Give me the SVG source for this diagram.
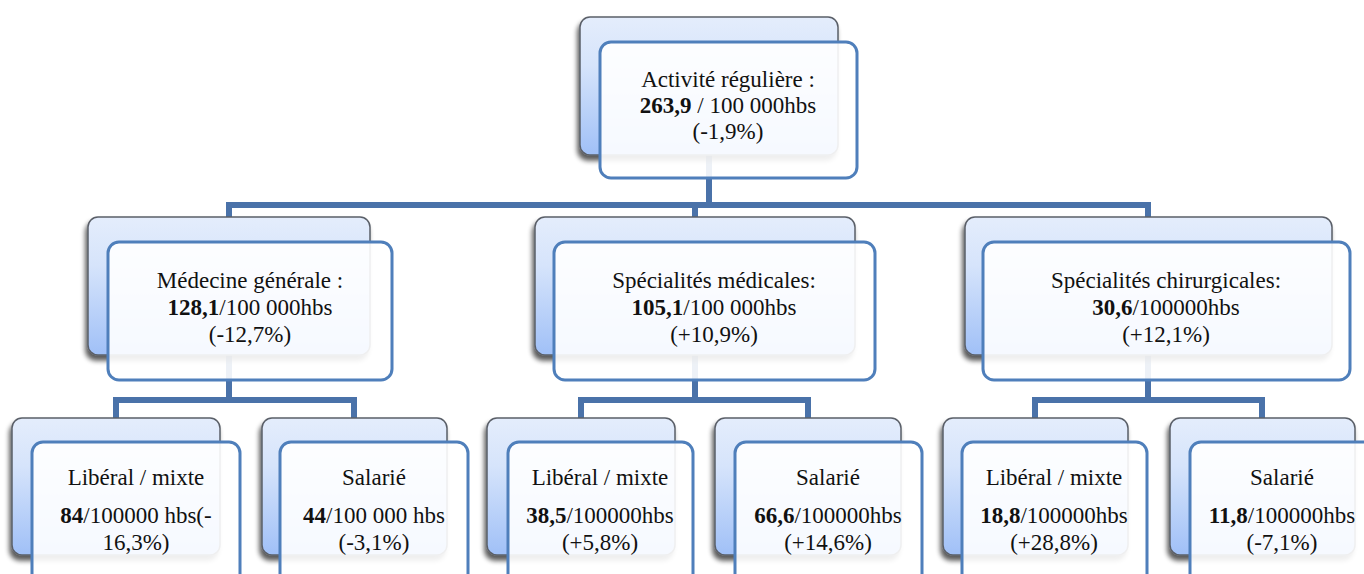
<svg xmlns="http://www.w3.org/2000/svg" width="1364" height="574" viewBox="0 0 1364 574">
<defs>
<linearGradient id="bg" x1="0" y1="0" x2="0" y2="1">
<stop offset="0" stop-color="#e4edfc"/>
<stop offset="0.35" stop-color="#d6e4fb"/>
<stop offset="1" stop-color="#a0c0f7"/>
</linearGradient>
<filter id="sh" x="-10%" y="-10%" width="120%" height="130%">
<feGaussianBlur in="SourceAlpha" stdDeviation="2.5"/>
<feOffset dx="-2" dy="5" result="o"/>
<feComponentTransfer><feFuncA type="linear" slope="0.65"/></feComponentTransfer>
<feMerge><feMergeNode/><feMergeNode in="SourceGraphic"/></feMerge>
</filter>
<style>
.back{fill:url(#bg);stroke:#5a5f68;stroke-width:1.5;filter:url(#sh)}
.front{fill:#ffffff;fill-opacity:0.9;stroke:#4f7fbb;stroke-width:3}
.conn{fill:none;stroke:#4a72a9;stroke-width:6;stroke-linejoin:miter}
text{font-family:"Liberation Serif","Times New Roman",serif;font-size:23px;fill:#111;text-anchor:middle}
.b{font-weight:bold}
</style>
</defs>
<rect width="1364" height="574" fill="#ffffff"/>
<g id="connectors">
<path class="conn" d="M709 150 V205 M229 205 H1148 M229 202 V220 M695 202 V220 M1148 202 V220"/>
<path class="conn" d="M229 350 V400 M116 400 H354 M116 397 V420 M354 397 V420"/>
<path class="conn" d="M695 350 V400 M581 400 H808 M581 397 V420 M808 397 V420"/>
<path class="conn" d="M1148 350 V400 M1035 400 H1262 M1035 397 V420 M1262 397 V420"/>
</g>
<g id="n-top">
<rect class="back" x="580" y="17" width="258" height="138" rx="10"/>
<rect class="front" x="600" y="42" width="257" height="136" rx="11"/>
<text x="728" y="87">Activité régulière :</text>
<text x="728" y="113"><tspan class="b">263,9</tspan> / 100 000hbs</text>
<text x="728" y="139">(-1,9%)</text>
</g>
<g id="n-mg">
<rect class="back" x="88" y="217" width="282" height="138" rx="10"/>
<rect class="front" x="108" y="242" width="284" height="138" rx="11"/>
<text x="250" y="288">Médecine générale :</text>
<text x="250" y="315"><tspan class="b">128,1</tspan>/100 000hbs</text>
<text x="250" y="342">(-12,7%)</text>
</g>
<g id="n-sm">
<rect class="back" x="535" y="217" width="320" height="138" rx="10"/>
<rect class="front" x="554" y="242" width="321" height="138" rx="11"/>
<text x="714" y="288">Spécialités médicales:</text>
<text x="714" y="315"><tspan class="b">105,1</tspan>/100 000hbs</text>
<text x="714" y="342">(+10,9%)</text>
</g>
<g id="n-sc">
<rect class="back" x="965" y="217" width="367" height="138" rx="10"/>
<rect class="front" x="983" y="242" width="367" height="138" rx="11"/>
<text x="1166" y="288">Spécialités chirurgicales:</text>
<text x="1166" y="315"><tspan class="b">30,6</tspan>/100000hbs</text>
<text x="1166" y="342">(+12,1%)</text>
</g>
<g id="n-mg-lib">
<rect class="back" x="12" y="418" width="208" height="137" rx="10"/>
<rect class="front" x="32" y="442" width="208" height="160" rx="11"/>
<text x="136" y="485">Libéral / mixte</text>
<text x="136" y="523"><tspan class="b">84</tspan>/100000 hbs(-</text>
<text x="136" y="550">16,3%)</text>
</g>
<g id="n-mg-sal">
<rect class="back" x="262" y="418" width="185" height="137" rx="10"/>
<rect class="front" x="280" y="442" width="188" height="160" rx="11"/>
<text x="374" y="485">Salarié</text>
<text x="374" y="523"><tspan class="b">44</tspan>/100 000 hbs</text>
<text x="374" y="550">(-3,1%)</text>
</g>
<g id="n-sm-lib">
<rect class="back" x="487" y="418" width="188" height="137" rx="10"/>
<rect class="front" x="508" y="442" width="185" height="160" rx="11"/>
<text x="600" y="485">Libéral / mixte</text>
<text x="600" y="523"><tspan class="b">38,5</tspan>/100000hbs</text>
<text x="600" y="550">(+5,8%)</text>
</g>
<g id="n-sm-sal">
<rect class="back" x="715" y="418" width="186" height="137" rx="10"/>
<rect class="front" x="735" y="442" width="187" height="160" rx="11"/>
<text x="828" y="485">Salarié</text>
<text x="828" y="523"><tspan class="b">66,6</tspan>/100000hbs</text>
<text x="828" y="550">(+14,6%)</text>
</g>
<g id="n-sc-lib">
<rect class="back" x="943" y="418" width="185" height="137" rx="10"/>
<rect class="front" x="962" y="442" width="185" height="160" rx="11"/>
<text x="1054" y="485">Libéral / mixte</text>
<text x="1054" y="523"><tspan class="b">18,8</tspan>/100000hbs</text>
<text x="1054" y="550">(+28,8%)</text>
</g>
<g id="n-sc-sal">
<rect class="back" x="1170" y="418" width="185" height="137" rx="10"/>
<rect class="front" x="1190" y="442" width="190" height="160" rx="11"/>
<text x="1282" y="485">Salarié</text>
<text x="1282" y="523"><tspan class="b">11,8</tspan>/100000hbs</text>
<text x="1282" y="550">(-7,1%)</text>
</g>
</svg>
